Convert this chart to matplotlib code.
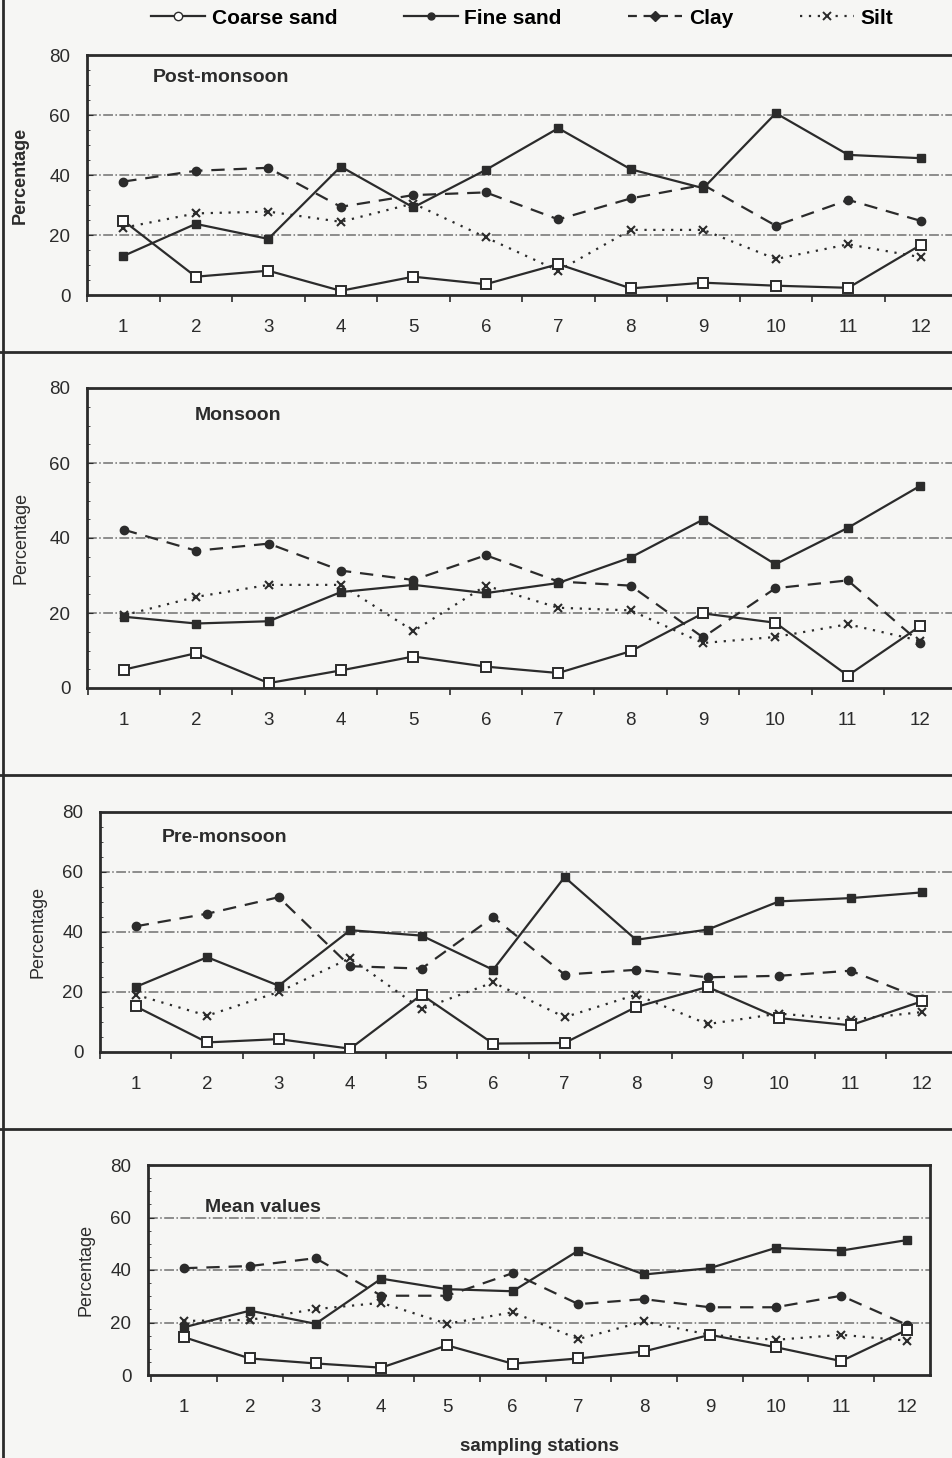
import matplotlib
matplotlib.use("Agg")
import matplotlib.pyplot as plt
from matplotlib.lines import Line2D

plt.rcParams['font.family'] = ['Liberation Sans', 'DejaVu Sans']

# sampling stations
stations = list(range(1, 13))

# Post-monsoon
post_coarse = [24.8, 6.1, 8.1, 1.4, 6.1, 3.6, 10.3, 2.2, 4.1, 3.1, 2.4, 16.7]
post_fine = [13.0, 23.7, 18.7, 42.8, 29.2, 41.7, 55.6, 41.9, 35.6, 60.6, 46.7, 45.6]
post_clay = [37.8, 41.4, 42.4, 29.4, 33.3, 34.2, 25.2, 32.2, 36.7, 23.1, 31.7, 24.7]
post_silt = [22.4, 27.2, 27.8, 24.4, 30.5, 19.2, 8.1, 21.7, 21.7, 12.0, 16.9, 12.6]

# Monsoon
mon_coarse = [4.9, 9.3, 1.3, 4.7, 8.4, 5.7, 4.0, 9.8, 19.9, 17.4, 3.3, 16.5]
mon_fine = [19.0, 17.2, 17.8, 25.6, 27.5, 25.3, 28.0, 34.8, 44.9, 33.0, 42.7, 53.9]
mon_clay = [42.2, 36.6, 38.5, 31.3, 28.8, 35.4, 28.4, 27.3, 13.5, 26.6, 28.7, 12.1]
mon_silt = [19.4, 24.3, 27.5, 27.5, 15.2, 27.3, 21.4, 20.7, 12.0, 13.6, 17.0, 12.6]

# Pre-monsoon
pre_coarse = [15.2, 3.2, 4.3, 1.1, 19.1, 2.8, 3.0, 15.0, 21.7, 11.3, 8.9, 16.9]
pre_fine = [21.7, 31.6, 22.1, 40.6, 38.8, 27.4, 58.3, 37.4, 40.8, 50.2, 51.3, 53.2]
pre_clay = [41.9, 46.1, 51.6, 28.6, 27.8, 45.0, 25.8, 27.4, 24.9, 25.4, 27.1, 17.7]
pre_silt = [19.1, 12.1, 20.0, 31.3, 14.3, 23.2, 11.6, 19.1, 9.3, 12.8, 10.8, 13.3]

# Mean values
mean_coarse = [14.4, 6.3, 4.4, 2.8, 11.3, 4.3, 6.3, 9.0, 15.3, 10.6, 5.3, 17.2]
mean_fine = [18.2, 24.5, 19.5, 36.7, 32.7, 31.9, 47.4, 38.3, 40.7, 48.4, 47.4, 51.4]
mean_clay = [40.7, 41.5, 44.5, 30.2, 30.2, 38.8, 27.0, 28.9, 25.8, 25.8, 30.2, 19.1]
mean_silt = [20.6, 21.0, 25.1, 27.5, 19.5, 23.9, 13.7, 20.4, 15.3, 13.4, 15.3, 13.1]

W, H = 952, 1458
ink = '#2b2b2b'
bg = '#f6f6f4'

fig = plt.figure(figsize=(W / 100, H / 100), dpi=100, facecolor=bg)


def px_axes(left, right, top, bottom):
    return fig.add_axes([left / W, 1 - bottom / H, (right - left) / W, (bottom - top) / H])


def draw_panel(ax, coarse, fine, clay, silt, title, tx, ty, xlim, ylab_x, ylab_bold=False,
               right_spine=False):
    ax.set_facecolor(bg)
    for g in (20, 40, 60):
        ax.axhline(g, color='#707070', lw=1.1, ls='-.', zorder=1)
    ax.plot(stations, coarse, color=ink, lw=1.6, marker='s', ms=7, mfc='white', mec=ink, mew=1.4, zorder=4)
    ax.plot(stations, fine, color=ink, lw=1.6, marker='s', ms=6, mfc=ink, mec=ink, zorder=4)
    ax.plot(stations, clay, color=ink, lw=1.6, ls=(0, (6, 4)), marker='o', ms=6, mfc=ink, mec=ink, zorder=3)
    ax.plot(stations, silt, color=ink, lw=1.6, ls=(0, (1, 3)), marker='x', ms=6, mec=ink, mew=1.5, zorder=3)
    ax.set_xlim(*xlim)
    ax.set_ylim(0, 80)
    ax.set_yticks([0, 20, 40, 60, 80])
    ax.set_yticks(range(0, 81, 5), minor=True)
    ax.set_xticks(stations)
    ax.set_xticks([s + 0.5 for s in range(0, 12)], minor=True)
    ax.tick_params(axis='x', which='major', length=0, pad=17, labelsize=13.5, colors=ink)
    ax.tick_params(axis='x', which='minor', length=5, width=1.2, direction='out', color=ink)
    ax.tick_params(axis='y', which='major', length=4, direction='in', pad=12, labelsize=13.5, colors=ink)
    ax.tick_params(axis='y', which='minor', length=2, direction='in', color=ink)
    for side in ('left', 'bottom', 'top', 'right'):
        ax.spines[side].set_linewidth(2.0)
        ax.spines[side].set_color(ink)
    ax.spines['right'].set_visible(right_spine)
    ax.set_ylabel('Percentage', fontsize=13, fontweight='bold' if ylab_bold else 'normal', color=ink)
    ax.yaxis.set_label_coords(ylab_x, 0.5)
    fig.text(tx / W, 1 - ty / H, title, fontsize=14, fontweight='bold', color=ink, va='center')


ax1 = px_axes(87, 952, 55, 295)
draw_panel(ax1, post_coarse, post_fine, post_clay, post_silt, 'Post-monsoon', 153, 78,
           (0.5, 12.43), ylab_x=(29 - 87) / 865, ylab_bold=True)

ax2 = px_axes(87, 952, 388, 688)
draw_panel(ax2, mon_coarse, mon_fine, mon_clay, mon_silt, 'Monsoon', 195, 415,
           (0.49, 12.44), ylab_x=(29 - 87) / 865)

ax3 = px_axes(100, 952, 812, 1052)
draw_panel(ax3, pre_coarse, pre_fine, pre_clay, pre_silt, 'Pre-monsoon', 162, 837,
           (0.5, 12.42), ylab_x=(47 - 100) / 852)

ax4 = px_axes(148, 930, 1165, 1375)
draw_panel(ax4, mean_coarse, mean_fine, mean_clay, mean_silt, 'Mean values', 205, 1208,
           (0.45, 12.35), ylab_x=(94 - 148) / 782, right_spine=True)
ax4.set_xlabel('sampling stations', fontsize=13.5, fontweight='bold', color=ink, labelpad=16)

# legend across the top
handles = [
    Line2D([], [], color=ink, lw=1.6, marker='o', ms=6, mfc='white', mec=ink),
    Line2D([], [], color=ink, lw=1.6, marker='o', ms=5, mfc=ink, mec=ink),
    Line2D([], [], color=ink, lw=1.6, ls=(0, (4, 3)), marker='D', ms=5, mfc=ink, mec=ink),
    Line2D([], [], color=ink, lw=1.6, ls=(0, (1, 3)), marker='x', ms=6, mec=ink, mew=1.4),
]
labels = ['Coarse sand', 'Fine sand', 'Clay', 'Silt']
fig.legend(handles, labels, loc='center', bbox_to_anchor=(522 / W, 1 - 18 / H), ncol=4, frameon=False,
           handlelength=2.6, columnspacing=3.2, handletextpad=0.3,
           prop={'weight': 'bold', 'size': 15})

# frame lines of the scanned page
for yy in (352, 775, 1129):
    fig.add_artist(Line2D([0, 1], [1 - yy / H, 1 - yy / H], color=ink, lw=2.0, transform=fig.transFigure))
fig.add_artist(Line2D([3 / W, 3 / W], [0, 1], color=ink, lw=2.0, transform=fig.transFigure))

fig.savefig('out.png', dpi=100, facecolor=bg)
